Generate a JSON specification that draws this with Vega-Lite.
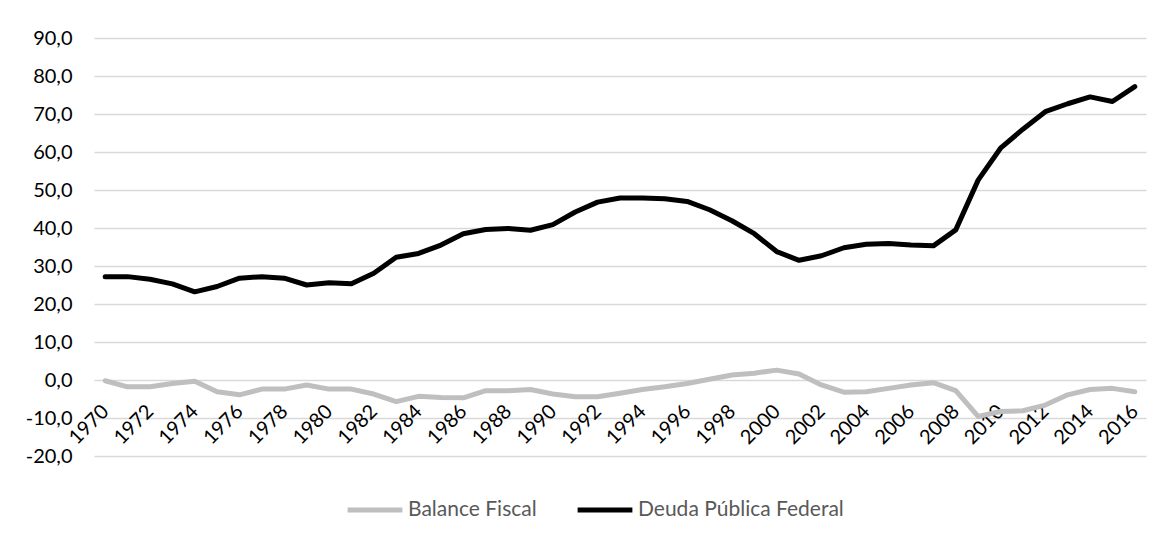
{
  "$schema": "https://vega.github.io/schema/vega-lite/v6.json",
  "width": 1052,
  "height": 418,
  "autosize": {"type": "none"},
  "padding": {"left": 94, "top": 38, "right": 26, "bottom": 81},
  "background": "white",
  "config": {
    "view": {"stroke": null},
    "locale": {"number": {"decimal": ",", "thousands": ".", "grouping": [3], "currency": ["", ""], "minus": "-"}},
    "font": "Lato"
  },
  "data": {"values": [
    {"year":1970,"serie":"Deuda Pública Federal","value":27.2},
    {"year":1971,"serie":"Deuda Pública Federal","value":27.2},
    {"year":1972,"serie":"Deuda Pública Federal","value":26.5},
    {"year":1973,"serie":"Deuda Pública Federal","value":25.3},
    {"year":1974,"serie":"Deuda Pública Federal","value":23.2},
    {"year":1975,"serie":"Deuda Pública Federal","value":24.6},
    {"year":1976,"serie":"Deuda Pública Federal","value":26.8},
    {"year":1977,"serie":"Deuda Pública Federal","value":27.2},
    {"year":1978,"serie":"Deuda Pública Federal","value":26.8},
    {"year":1979,"serie":"Deuda Pública Federal","value":25.0},
    {"year":1980,"serie":"Deuda Pública Federal","value":25.6},
    {"year":1981,"serie":"Deuda Pública Federal","value":25.3},
    {"year":1982,"serie":"Deuda Pública Federal","value":28.1},
    {"year":1983,"serie":"Deuda Pública Federal","value":32.3},
    {"year":1984,"serie":"Deuda Pública Federal","value":33.3},
    {"year":1985,"serie":"Deuda Pública Federal","value":35.5},
    {"year":1986,"serie":"Deuda Pública Federal","value":38.5},
    {"year":1987,"serie":"Deuda Pública Federal","value":39.6},
    {"year":1988,"serie":"Deuda Pública Federal","value":39.9},
    {"year":1989,"serie":"Deuda Pública Federal","value":39.4},
    {"year":1990,"serie":"Deuda Pública Federal","value":40.9},
    {"year":1991,"serie":"Deuda Pública Federal","value":44.2},
    {"year":1992,"serie":"Deuda Pública Federal","value":46.8},
    {"year":1993,"serie":"Deuda Pública Federal","value":47.9},
    {"year":1994,"serie":"Deuda Pública Federal","value":47.9},
    {"year":1995,"serie":"Deuda Pública Federal","value":47.7},
    {"year":1996,"serie":"Deuda Pública Federal","value":47.0},
    {"year":1997,"serie":"Deuda Pública Federal","value":44.8},
    {"year":1998,"serie":"Deuda Pública Federal","value":41.9},
    {"year":1999,"serie":"Deuda Pública Federal","value":38.5},
    {"year":2000,"serie":"Deuda Pública Federal","value":33.8},
    {"year":2001,"serie":"Deuda Pública Federal","value":31.5},
    {"year":2002,"serie":"Deuda Pública Federal","value":32.7},
    {"year":2003,"serie":"Deuda Pública Federal","value":34.8},
    {"year":2004,"serie":"Deuda Pública Federal","value":35.7},
    {"year":2005,"serie":"Deuda Pública Federal","value":35.9},
    {"year":2006,"serie":"Deuda Pública Federal","value":35.5},
    {"year":2007,"serie":"Deuda Pública Federal","value":35.3},
    {"year":2008,"serie":"Deuda Pública Federal","value":39.5},
    {"year":2009,"serie":"Deuda Pública Federal","value":52.6},
    {"year":2010,"serie":"Deuda Pública Federal","value":61.0},
    {"year":2011,"serie":"Deuda Pública Federal","value":66.0},
    {"year":2012,"serie":"Deuda Pública Federal","value":70.6},
    {"year":2013,"serie":"Deuda Pública Federal","value":72.7},
    {"year":2014,"serie":"Deuda Pública Federal","value":74.5},
    {"year":2015,"serie":"Deuda Pública Federal","value":73.3},
    {"year":2016,"serie":"Deuda Pública Federal","value":77.2},
    {"year":1970,"serie":"Balance Fiscal","value":-0.2},
    {"year":1971,"serie":"Balance Fiscal","value":-1.8},
    {"year":1972,"serie":"Balance Fiscal","value":-1.8},
    {"year":1973,"serie":"Balance Fiscal","value":-0.9},
    {"year":1974,"serie":"Balance Fiscal","value":-0.3},
    {"year":1975,"serie":"Balance Fiscal","value":-3.1},
    {"year":1976,"serie":"Balance Fiscal","value":-3.9},
    {"year":1977,"serie":"Balance Fiscal","value":-2.4},
    {"year":1978,"serie":"Balance Fiscal","value":-2.4},
    {"year":1979,"serie":"Balance Fiscal","value":-1.3},
    {"year":1980,"serie":"Balance Fiscal","value":-2.4},
    {"year":1981,"serie":"Balance Fiscal","value":-2.4},
    {"year":1982,"serie":"Balance Fiscal","value":-3.7},
    {"year":1983,"serie":"Balance Fiscal","value":-5.7},
    {"year":1984,"serie":"Balance Fiscal","value":-4.3},
    {"year":1985,"serie":"Balance Fiscal","value":-4.6},
    {"year":1986,"serie":"Balance Fiscal","value":-4.7},
    {"year":1987,"serie":"Balance Fiscal","value":-2.8},
    {"year":1988,"serie":"Balance Fiscal","value":-2.8},
    {"year":1989,"serie":"Balance Fiscal","value":-2.5},
    {"year":1990,"serie":"Balance Fiscal","value":-3.7},
    {"year":1991,"serie":"Balance Fiscal","value":-4.4},
    {"year":1992,"serie":"Balance Fiscal","value":-4.4},
    {"year":1993,"serie":"Balance Fiscal","value":-3.5},
    {"year":1994,"serie":"Balance Fiscal","value":-2.5},
    {"year":1995,"serie":"Balance Fiscal","value":-1.8},
    {"year":1996,"serie":"Balance Fiscal","value":-0.9},
    {"year":1997,"serie":"Balance Fiscal","value":0.2},
    {"year":1998,"serie":"Balance Fiscal","value":1.3},
    {"year":1999,"serie":"Balance Fiscal","value":1.8},
    {"year":2000,"serie":"Balance Fiscal","value":2.6},
    {"year":2001,"serie":"Balance Fiscal","value":1.6},
    {"year":2002,"serie":"Balance Fiscal","value":-1.3},
    {"year":2003,"serie":"Balance Fiscal","value":-3.2},
    {"year":2004,"serie":"Balance Fiscal","value":-3.1},
    {"year":2005,"serie":"Balance Fiscal","value":-2.2},
    {"year":2006,"serie":"Balance Fiscal","value":-1.3},
    {"year":2007,"serie":"Balance Fiscal","value":-0.7},
    {"year":2008,"serie":"Balance Fiscal","value":-2.8},
    {"year":2009,"serie":"Balance Fiscal","value":-9.6},
    {"year":2010,"serie":"Balance Fiscal","value":-8.3},
    {"year":2011,"serie":"Balance Fiscal","value":-8.1},
    {"year":2012,"serie":"Balance Fiscal","value":-6.6},
    {"year":2013,"serie":"Balance Fiscal","value":-3.9},
    {"year":2014,"serie":"Balance Fiscal","value":-2.5},
    {"year":2015,"serie":"Balance Fiscal","value":-2.2},
    {"year":2016,"serie":"Balance Fiscal","value":-3.1}
  ]},
  "mark": {"type": "line", "strokeWidth": 5, "strokeCap": "round", "strokeJoin": "round"},
  "encoding": {
    "x": {
      "field": "year", "type": "quantitative",
      "scale": {"domain": [1969.5, 2016.5], "nice": false, "zero": false},
      "axis": {
        "title": null, "grid": false, "domain": false, "ticks": false,
        "values": [1970,1972,1974,1976,1978,1980,1982,1984,1986,1988,1990,1992,1994,1996,1998,2000,2002,2004,2006,2008,2010,2012,2014,2016],
        "format": "d", "labelAngle": -45, "labelAlign": "right", "labelBaseline": "middle",
        "labelFontSize": 20, "labelColor": "#000000", "labelPadding": 28,
        "labelOverlap": false, "labelFlush": false, "labelBound": false,
        "offset": -76
      }
    },
    "y": {
      "field": "value", "type": "quantitative",
      "scale": {"domain": [-20, 90], "nice": false},
      "axis": {
        "title": null, "domain": false, "ticks": false,
        "values": [-20,-10,0,10,20,30,40,50,60,70,80,90],
        "format": ".1f", "labelFontSize": 20, "labelColor": "#000000", "labelPadding": 22,
        "gridColor": "#d9d9d9", "gridWidth": 1.5
      }
    },
    "color": {
      "field": "serie", "type": "nominal",
      "scale": {"domain": ["Balance Fiscal", "Deuda Pública Federal"], "range": ["#bfbfbf", "#000000"]},
      "legend": {
        "title": null, "orient": "none", "legendX": 251, "legendY": 442, "direction": "horizontal",
        "symbolType": "stroke", "symbolSize": 3000, "symbolStrokeWidth": 5,
        "labelFontSize": 21, "labelColor": "#595959", "labelOffset": 3, "columnPadding": 30,
        "labelLimit": 0
      }
    }
  }
}
